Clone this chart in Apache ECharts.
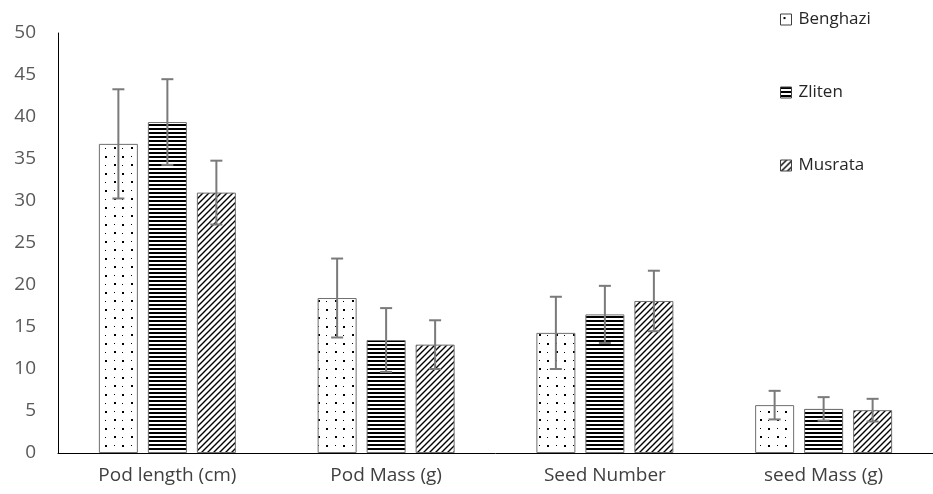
<!DOCTYPE html>
<html>
<head>
<meta charset="utf-8">
<script src="https://cdn.jsdelivr.net/npm/echarts@6/dist/echarts.min.js"></script>
<style>html,body{margin:0;padding:0;background:#fff}#c{width:933px;height:494px}</style>
</head>
<body>
<div id="c"></div>
<script>
const categories = ['Pod length (cm)', 'Pod Mass (g)', 'Seed Number', 'seed Mass (g)'];
const seriesNames = ['Benghazi', 'Zliten', 'Musrata'];
const benghazi = [36.8, 18.45, 14.3, 5.7];
const zliten = [39.4, 13.45, 16.5, 5.25];
const musrata = [31.0, 12.9, 18.1, 5.1];
const benghaziErr = [6.5, 4.7, 4.3, 1.7];
const zlitenErr = [5.1, 3.8, 3.4, 1.4];
const musrataErr = [3.8, 2.9, 3.6, 1.35];
const yTicks = { min: 0, max: 50, interval: 5 };

function makePattern(kind) {
  const c = document.createElement('canvas');
  const ctx = c.getContext('2d');
  if (kind === 'dots') {
    c.width = 17; c.height = 17;
    ctx.fillStyle = '#fff'; ctx.fillRect(0, 0, 17, 17);
    ctx.fillStyle = '#000';
    ctx.fillRect(3, 3, 2, 2);
    ctx.fillRect(12, 11, 2, 2);
    ctx.fillRect(12, 3, 1, 1);
    ctx.fillRect(3, 12, 1, 1);
  } else if (kind === 'hlines') {
    c.width = 4; c.height = 4;
    ctx.fillStyle = '#fff'; ctx.fillRect(0, 0, 4, 4);
    ctx.fillStyle = '#000'; ctx.fillRect(0, 0, 4, 2);
  } else {
    c.width = 6; c.height = 6;
    ctx.fillStyle = '#fff'; ctx.fillRect(0, 0, 6, 6);
    ctx.strokeStyle = '#000'; ctx.lineWidth = 1.4;
    ctx.beginPath();
    ctx.moveTo(-1, 7); ctx.lineTo(7, -1);
    ctx.moveTo(-4, 4); ctx.lineTo(4, -4);
    ctx.moveTo(2, 10); ctx.lineTo(10, 2);
    ctx.stroke();
  }
  return { image: c, repeat: 'repeat' };
}

const values = [benghazi, zliten, musrata];
const errs = [benghaziErr, zlitenErr, musrataErr];
const patterns = [makePattern('dots'), makePattern('hlines'), makePattern('diag')];
const BAR_W = 39, GAP = 10;

const series = [];
seriesNames.forEach((n, i) => {
  series.push({
    name: n, type: 'bar', data: values[i], barWidth: BAR_W, barGap: (GAP / BAR_W * 100) + '%',
    itemStyle: { color: patterns[i], borderColor: '#6f6f6f', borderWidth: 1 },
    z: 2
  });
});
seriesNames.forEach((n, i) => {
  series.push({
    type: 'custom', silent: true, z: 5,
    data: values[i].map((v, k) => [k, v - errs[i][k], v + errs[i][k]]),
    renderItem: function (params, api) {
      const k = api.value(0);
      const lo = api.coord([k, api.value(1)]);
      const hi = api.coord([k, api.value(2)]);
      const x = lo[0] + (i - 1) * (BAR_W + GAP);
      const cap = 6;
      const st = { stroke: '#7a7a7a', lineWidth: 2 };
      return { type: 'group', children: [
        { type: 'line', shape: { x1: x, y1: lo[1], x2: x, y2: hi[1] }, style: st },
        { type: 'line', shape: { x1: x - cap, y1: hi[1], x2: x + cap, y2: hi[1] }, style: st },
        { type: 'line', shape: { x1: x - cap, y1: lo[1], x2: x + cap, y2: lo[1] }, style: st }
      ]};
    }
  });
});

const chart = echarts.init(document.getElementById('c'), null, { renderer: 'canvas' });
chart.setOption({
  animation: false,
  textStyle: { fontFamily: 'Open Sans' },
  grid: { left: 58, right: 0, top: 33, bottom: 41 },
  legend: {
    data: seriesNames, orient: 'vertical', left: 775, top: 6, itemGap: 56,
    icon: 'rect', itemWidth: 11, itemHeight: 11,
    itemStyle: { borderColor: '#404040', borderWidth: 1 },
    textStyle: { fontSize: 17, color: '#262626', fontFamily: 'Open Sans', padding: [0, 0, 0, 2] }
  },
  xAxis: {
    type: 'category', data: categories,
    axisLine: { lineStyle: { color: '#000', width: 1 } },
    axisTick: { show: false },
    axisLabel: { fontSize: 19, color: '#404040', margin: 13, fontFamily: 'Open Sans' }
  },
  yAxis: {
    type: 'value', min: yTicks.min, max: yTicks.max, interval: yTicks.interval,
    axisLine: { show: true, lineStyle: { color: '#000', width: 1 } },
    axisTick: { show: false }, splitLine: { show: false },
    axisLabel: { fontSize: 19, color: '#595959', margin: 22, fontFamily: 'Open Sans' }
  },
  series: series
});
</script>
</body>
</html>
